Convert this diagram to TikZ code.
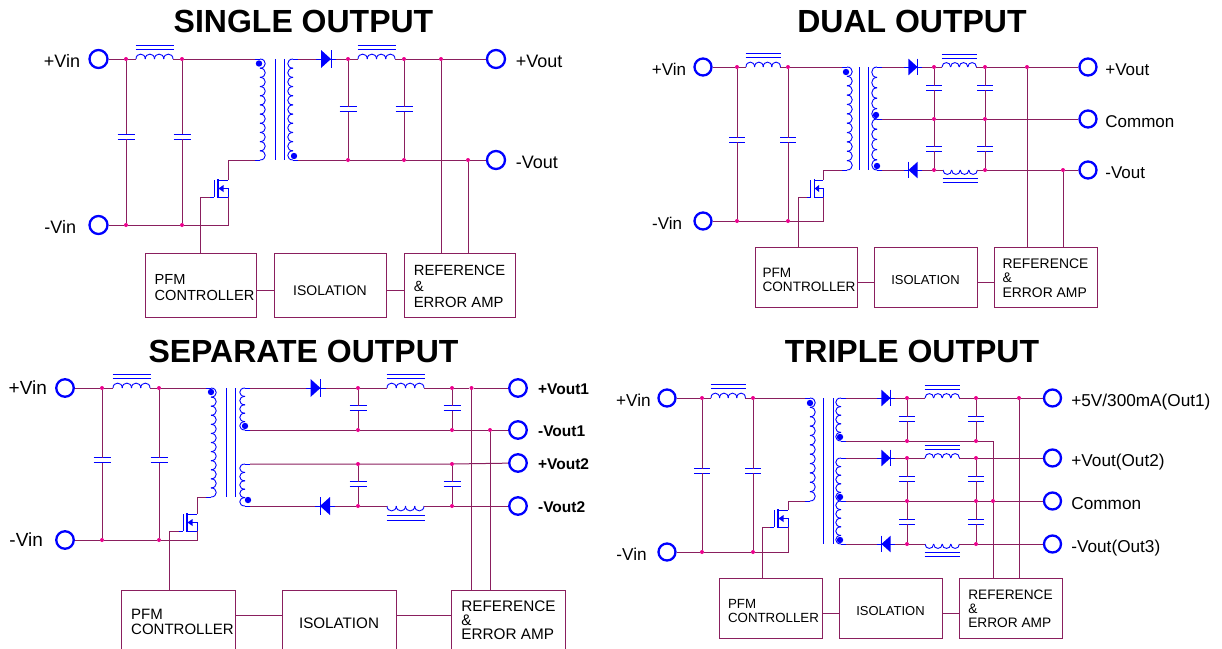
\documentclass[tikz,border=0pt]{standalone}
\usepackage{fontspec}
\setmainfont{Liberation Sans}
\usetikzlibrary{positioning}
\definecolor{wirecol}{HTML}{8A1F5E}
\newcommand{\fs}[1]{\fontsize{#1}{#1}\selectfont}
\newcommand{\pfmlines}[2]{\rule{0pt}{#2}\hspace*{#1}PFM\\\hspace*{#1}CONTROLLER}
\newcommand{\reflines}[2]{\rule{0pt}{#1}REFERENCE\\\&\\ERROR AMP\rule[-#2]{0pt}{#2}}
\tikzset{
	comp/.style={
		draw=blue,
		line width=0.9pt
	},
	pics/capac/.style={
		code={
			\draw[comp,line width=1pt] (-8.5,-2.5) -- (8.5,-2.5);
			\draw[comp] (-8.5,2.5) -- (8.5,2.5);
			\coordinate (-a) at (0,-2.5);
			\coordinate (-b) at (0,2.5);
		}
	},
	pics/choke/.style={
		code={
			\foreach \i in {0,...,3}
				\draw[comp] ({\i*9.25},0) .. controls ({\i*9.25},#1*6.5) and ({(\i+1)*9.25},#1*6.5) .. ({(\i+1)*9.25},0);
			\draw[comp,line width=1pt] (-0.5,#1*9.5) -- (37.5,#1*9.5);
			\draw[comp,line width=1pt] (-0.5,#1*14) -- (37.5,#1*14);
			\coordinate (-a) at (0,0);
			\coordinate (-b) at (37,0);
		}
	},
	pics/diode/.style={
		code={
			\fill[blue] (-#1*5,-9) -- (#1*5,0) -- (-#1*5,9) -- cycle;
			\draw[comp] (#1*5,-9) -- (#1*5,9);
			\draw[comp] (-10,0) -- (10,0);
			\coordinate (-a) at (-10,0);
			\coordinate (-b) at (10,0);
		}
	},
	pics/winding/.style n args={3}{
		code={
			\pgfmathsetmacro{\hh}{#1/#2}
			\foreach \i in {1,...,#2}
				\draw[comp] (0,{(\i-1)*\hh}) .. controls (#3*7,{(\i-1)*\hh}) and (#3*7,{\i*\hh}) .. (0,{\i*\hh});
			\draw[comp] (0,0) -- (#3*-5,0);
			\draw[comp] (0,#1) -- (#3*-5,#1);
			\coordinate (-a) at (#3*-5,0);
			\coordinate (-b) at (#3*-5,#1);
		}
	},
	pics/fetsw/.style={
		code={
			\draw[comp] (-14,0) -- (-14,17);
			\draw[comp,line width=1.2pt] (-10,-1) -- (-10,18);
			\draw[comp] (-10,0) -- (0,0);
			\draw[comp] (-10,17) -- (0,17) -- (0,8.5) -- (-10,8.5);
			\fill[blue] (-9.5,8.5) -- (-4.5,5) -- (-4.5,12) -- cycle;
			\draw[comp] (-14,17) -- (-18,17);
			\coordinate (-d) at (0,0);
			\coordinate (-s) at (0,17);
			\coordinate (-g) at (-18,17);
		}
	}
}
\begin{document}
\begin{tikzpicture}[
		x=1pt,
		y=-1pt,
		nodes = {
			align = left
		},
		wire/.style={
			draw=wirecol,
			line width=1pt
		},
		core/.style={
			draw=blue,
			line width=1pt
		},
		jn/.style={
			circle,
			fill=magenta,
			inner sep=0pt,
			minimum size=4pt
		},
		pol/.style={
			circle,
			fill=blue,
			inner sep=0pt,
			minimum size=6.4pt
		},
		term/.style={
			circle,
			draw=blue,
			fill=white,
			line width=2.3pt,
			inner sep=0pt,
			minimum size=#1
		},
		lab/.style={
			font=\fs{#1},
			inner sep=0pt,
			text height=12pt,
			text depth=0pt
		},
		lowlab/.style={
			lab=#1,
			yshift=-2.5pt
		},
		heading/.style={
			font=\fs{32}\bfseries,
			inner sep=0pt
		},
		block/.style={
			draw=wirecol,
			line width=1pt,
			fill=white,
			rectangle,
			inner sep=0pt
		}
	]
	\useasboundingbox (0,0) rectangle (1222,648);

	% single
	\node[heading] (shead) at (303.5,21) {SINGLE OUTPUT};
	\node[term=18pt] (svip) at (98.5,59) {};
	\node[term=18pt] (svin) at (98.5,225) {};
	\node[term=18pt] (svop) at (496,59) {};
	\node[term=18pt] (svon) at (496,160) {};
	\node[lowlab=18] (lsvip) [left=8pt of svip] {+Vin};
	\node[lowlab=18] (lsvin) [left=12pt of svin] {-Vin};
	\node[lowlab=18] (lsvop) [right=9.5pt of svop] {+Vout};
	\node[lowlab=18] (lsvon) [right=9.5pt of svon] {-Vout};
	\foreach \n/\x/\y in {sj1/126/59,sj2/182/59,sj3/126/225,sj4/182/225,sj5/348/59,sj6/404/59,sj7/348/160,sj8/404/160,sj9/441/59,sj10/468/160}
		\node[jn] (\n) at (\x,\y) {};
	\pic (sl1) at (136,59) {choke=-1};
	\pic (sl2) at (358,59) {choke=-1};
	\pic (swp) at (260,59) {winding={101}{11}{1}};
	\pic (sws) at (293,59) {winding={101}{11}{-1}};
	\pic (sd1) at (326,59) {diode=1};
	\pic (sf) at (228,180) {fetsw};
	\draw[core] (275,59) -- (275,160) (284,59) -- (284,160);
	\node[pol] (spa) at (259,63.5) {};
	\node[pol] (spb) at (294,156) {};
	\foreach \c/\x/\y/\a/\b in {sc1/126/136.5/sj1/sj3,sc2/182/136.5/sj2/sj4,sc3/348/109/sj5/sj7,sc4/404/109/sj6/sj8}{
		\pic (\c) at (\x,\y) {capac};
		\draw[wire] (\a) -- (\c-a) (\c-b) -- (\b);
	}
	\node[block,font=\fontsize{14.6}{16}\selectfont,minimum width=111pt,minimum height=64pt] (spfm) at (200.5,285) {\pfmlines{8pt}{15pt}};
	\node[block,font=\fs{14},minimum width=112pt,minimum height=64pt,align=center,text height=20pt,text depth=0pt] (siso) [right=17pt of spfm] {ISOLATION};
	\node[block,font=\fontsize{14.8}{16}\selectfont,minimum width=111pt,minimum height=64pt] (sref) [right=17pt of siso] {\reflines{13pt}{0pt}};
	\draw[wire] (svip) -- (sj1) -- (sl1-a) (sl1-b) -- (sj2) -- (swp-a);
	\draw[wire] (svin) -- (sj3) -- (sj4) -| (sf-s);
	\draw[wire] (swp-b) -| (sf-d);
	\draw[wire] (sf-g) -| (spfm.north);
	\draw[wire] (sws-a) -- (sd1-a) (sd1-b) -- (sj5) -- (sl2-a) (sl2-b) -- (sj6) -- (sj9) -- (svop);
	\draw[wire] (sws-b) -- (sj7) -- (sj8) -- (sj10) -- (svon);
	\draw[wire] (sj9) -- (sj9 |- sref.north);
	\draw[wire] (sj10) -- (sj10 |- sref.north);
	\draw[wire] ([yshift=-5pt]spfm.east) -- ([yshift=-5pt]siso.west);
	\draw[wire] ([yshift=-5pt]siso.east) -- ([yshift=-5pt]sref.west);

	% dual
	\node[heading] (dhead) at (912,21) {DUAL OUTPUT};
	\node[term=17pt] (dvip) at (703,67) {};
	\node[term=17pt] (dvin) at (703,221) {};
	\node[term=17pt] (dvop) at (1088,67) {};
	\node[term=17pt] (dvoc) at (1088,119) {};
	\node[term=17pt] (dvon) at (1088,170) {};
	\node[lowlab=17] (ldvip) [left=7pt of dvip] {+Vin};
	\node[lowlab=17] (ldvin) [left=11pt of dvin] {-Vin};
	\node[lowlab=17] (ldvop) [right=7.5pt of dvop] {+Vout};
	\node[lowlab=17] (ldvoc) [right=7.5pt of dvoc] {Common};
	\node[lowlab=17] (ldvon) [right=7.5pt of dvon] {-Vout};
	\foreach \n/\x/\y in {dj1/737/67,dj2/788/67,dj3/737/221,dj4/788/221,dj5/934/67,dj6/985/67,dj7/934/119,dj8/985/119,dj9/934/170,dj10/985/170,dj11/1027/67,dj12/1063/170}
		\node[jn] (\n) at (\x,\y) {};
	\pic[xscale=.93] (dl1) at (746,67) {choke=-1};
	\pic[xscale=.93,yscale=.9] (dl2) at (942,67) {choke=-1};
	\pic[xscale=.93,yscale=.9] (dl3) at (943,170) {choke=1};
	\pic (dwp) at (847,67) {winding={103}{11}{1}};
	\pic (dwu) at (877,67) {winding={52}{5}{-1}};
	\pic (dwl) at (877,119) {winding={51}{5}{-1}};
	\pic[scale=.92] (dd1) at (913,67) {diode=1};
	\pic[scale=.92] (dd2) at (913,170) {diode=-1};
	\pic[xscale=.88] (df) at (823,180) {fetsw};
	\draw[core] (859,67) -- (859,170) (868,67) -- (868,170);
	\node[pol] (dpa) at (846,72) {};
	\node[pol] (dpb) at (876,115) {};
	\node[pol] (dpc) at (877,166) {};
	\foreach \c/\x/\y/\a/\b in {dc1/737/140/dj1/dj3,dc2/788/140/dj2/dj4,dc3/934/88/dj5/dj7,dc4/985/88/dj6/dj8,dc5/934/149/dj7/dj9,dc6/985/149/dj8/dj10}{
		\pic[scale=.92] (\c) at (\x,\y) {capac};
		\draw[wire] (\a) -- (\c-a) (\c-b) -- (\b);
	}
	\coordinate (dgate) at (798,247);
	\node[block,font=\fontsize{13.6}{13.5}\selectfont,minimum width=102pt,minimum height=60pt] (dpfm) at (806,277) {\pfmlines{6pt}{15pt}};
	\node[block,font=\fs{13},minimum width=103pt,minimum height=60pt,align=center,text height=15.3pt,text depth=0pt] (diso) [right=16pt of dpfm] {ISOLATION};
	\node[block,font=\fontsize{13.9}{14.5}\selectfont,minimum width=103pt,minimum height=60pt] (dref) [right=16pt of diso] {\reflines{12pt}{0pt}};
	\draw[wire] (dvip) -- (dj1) -- (dl1-a) (dl1-b) -- (dj2) -- (dwp-a);
	\draw[wire] (dvin) -- (dj3) -- (dj4) -| (df-s);
	\draw[wire] (dwp-b) -| (df-d);
	\draw[wire] (df-g) -| (dgate);
	\draw[wire] (dwu-a) -- (dd1-a) (dd1-b) -- (dj5) -- (dl2-a) (dl2-b) -- (dj6) -- (dj11) -- (dvop);
	\draw[wire] (dwu-b) -- (dj7) -- (dj8) -- (dvoc);
	\draw[wire] (dwl-b) -- (dd2-a) (dd2-b) -- (dj9) -- (dl3-a) (dl3-b) -- (dj10) -- (dj12) -- (dvon);
	\draw[wire] (dj11) -- (dj11 |- dref.north);
	\draw[wire] (dj12) -- (dj12 |- dref.north);
	\draw[wire] ([yshift=-5pt]dpfm.east) -- ([yshift=-5pt]diso.west);
	\draw[wire] ([yshift=-5pt]diso.east) -- ([yshift=-5pt]dref.west);

	% separate
	\node[heading] (phead) at (303.5,351) {SEPARATE OUTPUT};
	\node[term=17.5pt] (pvip) at (65,388) {};
	\node[term=17.5pt] (pvin) at (65,540) {};
	\node[term=17.5pt] (pvo1) at (518,388) {};
	\node[term=17.5pt] (pvn1) at (518,430) {};
	\node[term=17.5pt] (pvo2) at (518,463) {};
	\node[term=17.5pt] (pvn2) at (518,506) {};
	\node[lab=19] (lpvip) [left=8pt of pvip] {+Vin};
	\node[lab=19] (lpvin) [left=12pt of pvin] {-Vin};
	\node[lab=15.5,font=\fs{15.5}\bfseries] (lpvo1) [right=10pt of pvo1] {+Vout1};
	\node[lab=15.5,font=\fs{15.5}\bfseries] (lpvn1) [right=10pt of pvn1] {-Vout1};
	\node[lab=15.5,font=\fs{15.5}\bfseries] (lpvo2) [right=10pt of pvo2] {+Vout2};
	\node[lab=15.5,font=\fs{15.5}\bfseries] (lpvn2) [right=10pt of pvn2] {-Vout2};
	\foreach \n/\x/\y in {pj1/102/388,pj2/159/388,pj3/102/540,pj4/159/540,pj5/358/388,pj6/452/388,pj7/358/430,pj8/452/430,pj9/358/464,pj10/452/464,pj11/358/506,pj12/452/506,pj13/471.5/388,pj14/490/430}
		\node[jn] (\n) at (\x,\y) {};
	\pic (pl1) at (113,388) {choke=-1};
	\pic (pl2) at (387,388) {choke=-1};
	\pic (pl3) at (387,506) {choke=1};
	\pic (pwp) at (211,388) {winding={109}{12}{1}};
	\pic (pwa) at (245,388) {winding={42}{5}{-1}};
	\pic (pwb) at (245,464) {winding={42}{5}{-1}};
	\pic (pd1) at (315.5,388) {diode=1};
	\pic (pd2) at (325,506) {diode=-1};
	\pic (pf) at (197,514) {fetsw};
	\draw[core] (226,388) -- (226,497) (235,388) -- (235,497);
	\node[pol] (ppa) at (211,392) {};
	\node[pol] (ppb) at (245,426) {};
	\node[pol] (ppc) at (248,500) {};
	\foreach \c/\x/\y/\a/\b in {pc1/102/460/pj1/pj3,pc2/159/460/pj2/pj4,pc3/358/408/pj5/pj7,pc4/452/408/pj6/pj8,pc5/358/484/pj9/pj11,pc6/452/484/pj10/pj12}{
		\pic (\c) at (\x,\y) {capac};
		\draw[wire] (\a) -- (\c-a) (\c-b) -- (\b);
	}
	\coordinate (pgate) at (169,590);
	\node[block,font=\fs{15},minimum width=114pt,minimum height=64pt] (ppfm) at (178,622) {\pfmlines{9pt}{0pt}};
	\node[block,font=\fs{15.2},minimum width=114pt,minimum height=64pt,align=center,text height=12.7pt,text depth=0pt] (piso) [right=46pt of ppfm] {ISOLATION};
	\node[block,font=\fontsize{15.3}{14}\selectfont,minimum width=114pt,minimum height=64pt] (pref) [right=54.5pt of piso] {\reflines{0pt}{4pt}};
	\draw[wire] (pvip) -- (pj1) -- (pl1-a) (pl1-b) -- (pj2) -- (pwp-a);
	\draw[wire] (pvin) -- (pj3) -- (pj4) -| (pf-s);
	\draw[wire] (pwp-b) -| (pf-d);
	\draw[wire] (pf-g) -| (pgate);
	\draw[wire] (pwa-a) -- (pd1-a) (pd1-b) -- (pj5) -- (pl2-a) (pl2-b) -- (pj6) -- (pj13) -- (pvo1);
	\draw[wire] (pwa-b) -- (pj7) -- (pj8) -- (pj14) -- (pvn1);
	\draw[wire] (pwb-a) -- (pj9) -- (pj10) -- (pvo2);
	\draw[wire] (pwb-b) -- (pd2-a) (pd2-b) -- (pj11) -- (pl3-a) (pl3-b) -- (pj12) -- (pvn2);
	\draw[wire] (pj13) -- (pj13 |- pref.north);
	\draw[wire] (pj14) -- (pj14 |- pref.north);
	\draw[wire] ([yshift=7pt]ppfm.east) -- ([yshift=7pt]piso.west);
	\draw[wire] ([yshift=7pt]piso.east) -- ([yshift=7pt]pref.west);

	% triple
	\node[heading] (thead) at (912,351) {TRIPLE OUTPUT};
	\node[term=17pt] (tvip) at (667,398) {};
	\node[term=17pt] (tvin) at (667,552) {};
	\node[term=17pt] (tvo1) at (1052.5,398) {};
	\node[term=17pt] (tvo2) at (1052.5,458) {};
	\node[term=17pt] (tvoc) at (1052.5,501) {};
	\node[term=17pt] (tvo3) at (1052.5,544) {};
	\node[lowlab=17.2] (ltvip) [left=6.5pt of tvip] {+Vin};
	\node[lowlab=17.2] (ltvin) [left=10.5pt of tvin] {-Vin};
	\node[lowlab=17.2] (ltvo1) [right=9pt of tvo1] {+5V/300mA(Out1)};
	\node[lowlab=17.2] (ltvo2) [right=9pt of tvo2] {+Vout(Out2)};
	\node[lowlab=17.2] (ltvoc) [right=9pt of tvoc] {Common};
	\node[lowlab=17.2] (ltvo3) [right=9pt of tvo3] {-Vout(Out3)};
	\foreach \n/\x/\y in {tj1/702/398,tj2/753/398,tj3/702/552,tj4/753/552,tj5/907/398,tj6/976/398,tj7/907/441,tj8/976/441,tj9/907/458,tj10/976/458,tj11/907/501,tj12/976/501,tj13/907/544,tj14/976/544,tj15/1019/398,tj16/993/501}
		\node[jn] (\n) at (\x,\y) {};
	\pic[xscale=.93] (tl1) at (711,398) {choke=-1};
	\pic[xscale=.93,yscale=.9] (tl2) at (925,398) {choke=-1};
	\pic[xscale=.93,yscale=.9] (tl3) at (925,458) {choke=-1};
	\pic[xscale=.93,yscale=.9] (tl4) at (925,544) {choke=1};
	\pic (twp) at (810,398) {winding={103}{11}{1}};
	\pic (twa) at (841,398) {winding={43}{5}{-1}};
	\pic (twb) at (841,458) {winding={43}{5}{-1}};
	\pic (twc) at (841,501) {winding={43}{5}{-1}};
	\pic[scale=.92] (td1) at (886,398) {diode=1};
	\pic[scale=.92] (td2) at (886,458) {diode=1};
	\pic[scale=.92] (td3) at (886,544) {diode=-1};
	\pic (tf) at (788,510) {fetsw};
	\draw[core] (823,398) -- (823,544) (833,398) -- (833,544);
	\node[pol] (tpa) at (810,403) {};
	\node[pol] (tpb) at (840,437) {};
	\node[pol] (tpc) at (840,497) {};
	\node[pol] (tpd) at (840,540) {};
	\foreach \c/\x/\y/\a/\b in {tc1/702/471/tj1/tj3,tc2/753/471/tj2/tj4,tc3/907/419/tj5/tj7,tc4/976/419/tj6/tj8,tc5/907/479/tj9/tj11,tc6/976/479/tj10/tj12,tc7/907/522/tj11/tj13,tc8/976/522/tj12/tj14}{
		\pic[scale=.92] (\c) at (\x,\y) {capac};
		\draw[wire] (\a) -- (\c-a) (\c-b) -- (\b);
	}
	\coordinate (tgate) at (762,578);
	\node[block,font=\fontsize{13.3}{14}\selectfont,minimum width=103pt,minimum height=60pt] (tpfm) at (770.5,608) {\pfmlines{6pt}{15pt}};
	\node[block,font=\fs{13},minimum width=103pt,minimum height=60pt,align=center,text height=15.3pt,text depth=0pt] (tiso) [right=16pt of tpfm] {ISOLATION};
	\node[block,font=\fontsize{13.7}{14}\selectfont,minimum width=103pt,minimum height=60pt] (tref) [right=16pt of tiso] {\reflines{12pt}{0pt}};
	\draw[wire] (tvip) -- (tj1) -- (tl1-a) (tl1-b) -- (tj2) -- (twp-a);
	\draw[wire] (tvin) -- (tj3) -- (tj4) -| (tf-s);
	\draw[wire] (twp-b) -| (tf-d);
	\draw[wire] (tf-g) -| (tgate);
	\draw[wire] (twa-a) -- (td1-a) (td1-b) -- (tj5) -- (tl2-a) (tl2-b) -- (tj6) -- (tj15) -- (tvo1);
	\draw[wire] (twa-b) -- (tj7) -- (tj8) -| (tj16);
	\draw[wire] (twb-a) -- (td2-a) (td2-b) -- (tj9) -- (tl3-a) (tl3-b) -- (tj10) -- (tvo2);
	\draw[wire] (twb-b) -- (tj11) -- (tj12) -- (tj16) -- (tvoc);
	\draw[wire] (twc-b) -- (td3-a) (td3-b) -- (tj13) -- (tl4-a) (tl4-b) -- (tj14) -- (tvo3);
	\draw[wire] (tj15) -- (tj15 |- tref.north);
	\draw[wire] (tj16) -- (tj16 |- tref.north);
	\draw[wire] ([yshift=-5pt]tpfm.east) -- ([yshift=-5pt]tiso.west);
	\draw[wire] ([yshift=-5pt]tiso.east) -- ([yshift=-5pt]tref.west);
\end{tikzpicture}
\end{document}
